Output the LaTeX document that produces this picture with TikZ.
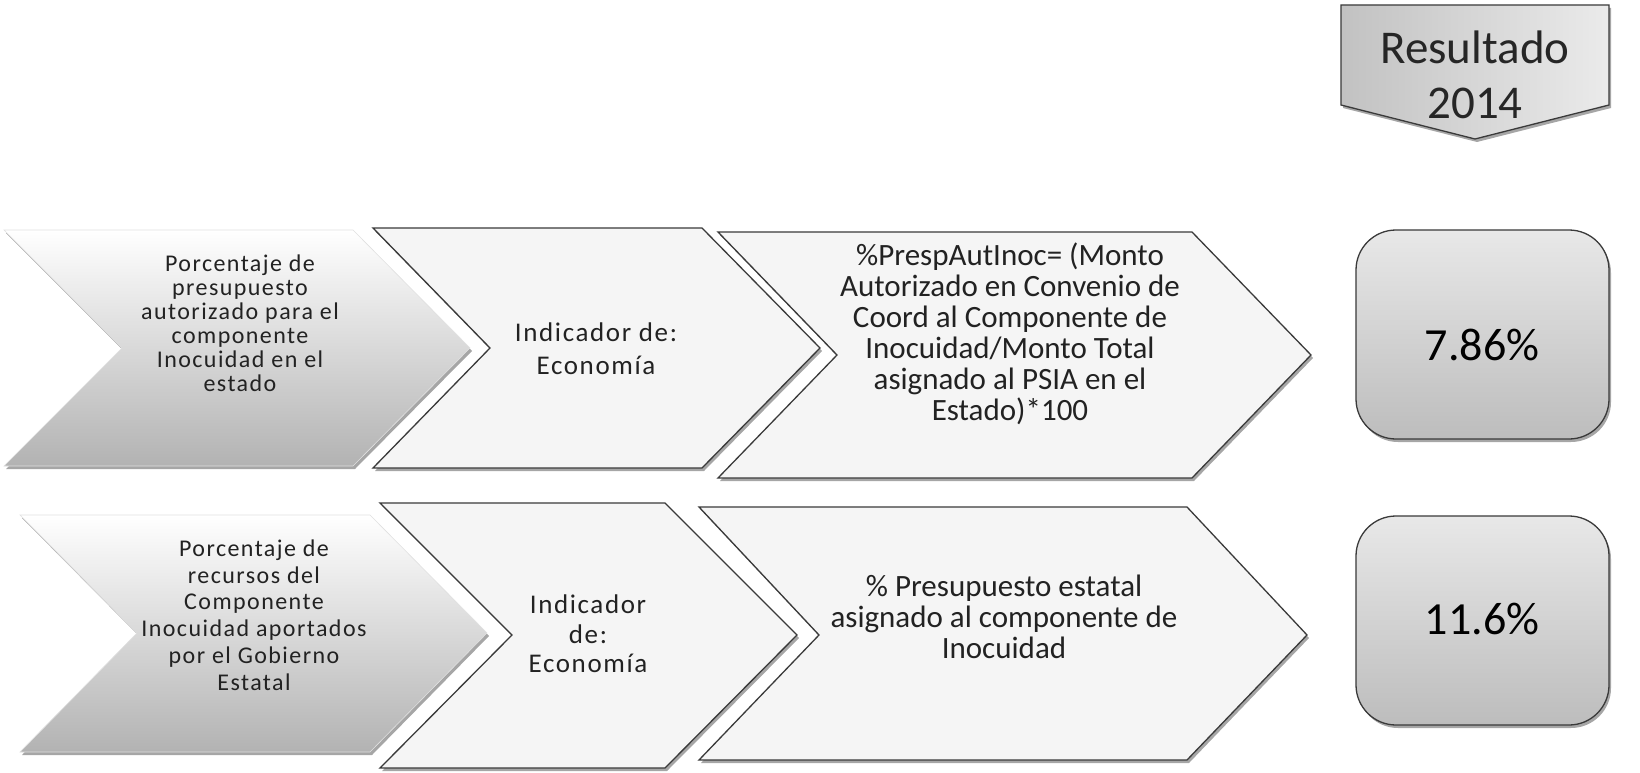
\documentclass[tikz,border=0pt]{standalone}
\usepackage{fontspec}
\setmainfont{Carlito}
\newfontfamily\trk[LetterSpace=6]{Carlito}
\usetikzlibrary{shadows}
\definecolor{edge}{HTML}{3A3A3A}
\definecolor{ink}{HTML}{222222}
\tikzset{
  shad/.style={drop shadow={shadow xshift=2pt, shadow yshift=-3pt, opacity=0.35, fill=black}},
  chevlight/.style={draw=edge, line width=1.3pt, fill=black!4, line join=miter, shad},
  chevgrad/.style={top color=white, bottom color=black!30, draw=black!12, line width=0.6pt, shad},
  resbox/.style={draw=edge, line width=1.3pt, rounded corners=40pt, top color=black!9, bottom color=black!26, shad},
  headbox/.style={draw=edge, line width=1.3pt, left color=black!24, right color=black!8, shad},
  smalltxt/.style={align=center, text=ink, font=\trk\fontsize{24}{24}\selectfont},
  midtxt/.style={align=center, text=ink, font=\trk\fontsize{27}{33}\selectfont},
  bigtxt/.style={align=center, text=ink, font=\fontsize{31}{31}\selectfont},
  numtxt/.style={align=center, text=black, font=\fontsize{46}{46}\selectfont},
  headtxt/.style={align=center, text=black!85, font=\fontsize{47}{55}\selectfont}
}
\begin{document}
\begin{tikzpicture}[x=1pt,y=-1pt]
\useasboundingbox[fill=white] (0,0) rectangle (1640,773);

% header
\path[headbox] (1341,5) -- (1609,5) -- (1609,105) -- (1475,139) -- (1341,105) -- cycle;
\node[headtxt] (head) at (1475,75) {Resultado\\2014};

% row 1
\path[chevgrad] (4,230) -- (353,230) -- (470,348) -- (353,466) -- (4,466) -- (122,348) -- cycle;
\path[chevlight] (373,228) -- (702,228) -- (820,348) -- (702,468) -- (373,468) -- (490,348) -- cycle;
\path[chevlight] (718,232) -- (1192,232) -- (1311,355) -- (1192,478) -- (718,478) -- (837,355) -- cycle;
\node[smalltxt] (t1) at (240,323) {Porcentaje de\\presupuesto\\autorizado para el\\componente\\Inocuidad en el\\estado};
\node[midtxt] (t2) at (596,349) {Indicador de:\\Economía};
\node[bigtxt] (t3) at (1010,334) {\%PrespAutInoc= (Monto\\Autorizado en Convenio de\\Coord al Componente de\\Inocuidad/Monto Total\\asignado al PSIA en el\\Estado)*100};

% row 2
\path[chevgrad] (20,515) -- (370,515) -- (487,633) -- (370,752) -- (20,752) -- (137,633) -- cycle;
\path[chevlight] (380,503) -- (665,503) -- (797,635) -- (665,768) -- (380,768) -- (512,635) -- cycle;
\path[chevlight] (699,507) -- (1187,507) -- (1307,635) -- (1187,760) -- (699,760) -- (819,635) -- cycle;
\node[smalltxt, font=\trk\fontsize{24}{26.8}\selectfont] (t4) at (254,615) {Porcentaje de\\recursos del\\Componente\\Inocuidad aportados\\por el Gobierno\\Estatal};
\node[midtxt, font=\trk\fontsize{27}{29.5}\selectfont] (t5) at (588,634) {Indicador\\de:\\Economía};
\node[bigtxt] (t6) at (1004,617) {\% Presupuesto estatal\\asignado al componente de\\Inocuidad};

% results
\path[resbox] (1356,230) rectangle (1609,439);
\node[numtxt] (r1) at (1482,345) {7.86\%};
\path[resbox] (1356,516) rectangle (1609,725);
\node[numtxt] (r2) at (1482,619) {11.6\%};
\end{tikzpicture}
\end{document}
